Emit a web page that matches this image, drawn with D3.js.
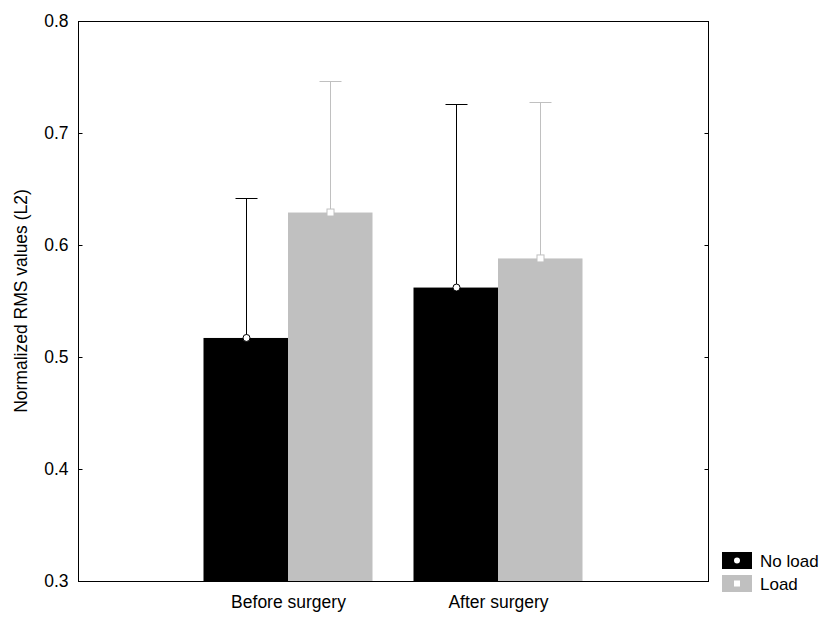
<!DOCTYPE html>
<html><head><meta charset="utf-8">
<script src="https://cdn.jsdelivr.net/npm/d3@7"></script>
<style>body{margin:0;background:#fff;} text{font-family:Arial,"Liberation Sans",sans-serif;}</style>
</head><body>
<svg id="c" width="832" height="624"></svg>
<script>
const categories = ["Before surgery", "After surgery"];
const seriesNames = ["No load", "Load"];
const noLoadMeans = [0.517, 0.562];
const noLoadUpper = [0.642, 0.726];
const loadMeans = [0.629, 0.588];
const loadUpper = [0.746, 0.728];
const yTicks = [0.3, 0.4, 0.5, 0.6, 0.7, 0.8];
const colors = ["#000000", "#c0c0c0"];

const series = [
  {name: seriesNames[0], means: noLoadMeans, upper: noLoadUpper, color: colors[0], marker: "circle"},
  {name: seriesNames[1], means: loadMeans, upper: loadUpper, color: colors[1], marker: "square"}
];

const svg = d3.select("#c");
const L = 78, R = 708, T = 21, B = 581;
const x = d3.scalePoint().domain(categories).range([L, R]).padding(1);
const barW = 84.5;
const xs = d3.scaleBand().domain(seriesNames).range([-barW, barW]);
const y = d3.scaleLinear().domain([0.3, 0.8]).range([B, T]);

// bars
series.forEach(s => {
  const g = svg.append("g");
  categories.forEach((c, i) => {
    const x0 = x(c) + xs(s.name);
    g.append("rect").attr("x", x0).attr("y", y(s.means[i]))
      .attr("width", xs.bandwidth()).attr("height", y(0.3) - y(s.means[i]))
      .attr("fill", s.color);
  });
});
// error bars and markers
series.forEach(s => {
  categories.forEach((c, i) => {
    const cx = Math.round(x(c) + xs(s.name) + xs.bandwidth() / 2) + 0.5;
    const yt = Math.round(y(s.upper[i])) + 0.5;
    svg.append("line").attr("x1", cx).attr("x2", cx).attr("y1", y(s.means[i])).attr("y2", yt)
      .attr("stroke", s.color).attr("stroke-width", 1);
    svg.append("line").attr("x1", cx - 11).attr("x2", cx + 11).attr("y1", yt).attr("y2", yt)
      .attr("stroke", s.color).attr("stroke-width", 1);
    if (s.marker === "circle") {
      svg.append("circle").attr("cx", cx).attr("cy", y(s.means[i])).attr("r", 3.5)
        .attr("fill", "#fff").attr("stroke", "#000").attr("stroke-width", 1);
    } else {
      svg.append("rect").attr("x", cx - 3.5).attr("y", y(s.means[i]) - 3.5).attr("width", 7).attr("height", 7)
        .attr("fill", "#fff").attr("stroke", s.color).attr("stroke-width", 1);
    }
  });
});

// frame
svg.append("rect").attr("x", L + 0.5).attr("y", T + 0.5).attr("width", R - L).attr("height", B - T)
  .attr("fill", "none").attr("stroke", "#000").attr("stroke-width", 1);

// y axis
const yAxis = d3.axisLeft(y).tickValues(yTicks).tickFormat(d3.format(".1f")).tickSizeInner(-4).tickSizeOuter(0).tickPadding(10);
const ga = svg.append("g").attr("transform", `translate(${L + 0.5},0)`).call(yAxis);
ga.select(".domain").remove();
ga.selectAll("text").attr("font-size", 17.5).attr("fill", "#000").attr("font-family", "Arial, 'Liberation Sans', sans-serif");
ga.selectAll("line").attr("stroke", "#000");
const yAxisR = d3.axisRight(y).tickValues(yTicks.slice(1, -1)).tickSize(-4).tickFormat("");
const gr = svg.append("g").attr("transform", `translate(${R + 0.5},0)`).call(yAxisR);
gr.select(".domain").remove();
gr.selectAll("line").attr("stroke", "#000");

// x axis labels
const xAxis = d3.axisBottom(x).tickSize(0).tickPadding(0);
const gx = svg.append("g").attr("transform", `translate(0,${B})`).call(xAxis);
gx.select(".domain").remove();
gx.selectAll("text").attr("dy", null).attr("y", 27).attr("font-size", 17.5).attr("fill", "#000").attr("font-family", "Arial, 'Liberation Sans', sans-serif");

// y title
svg.append("text").attr("transform", `translate(27,${(T + B) / 2}) rotate(-90)`)
  .attr("text-anchor", "middle").attr("font-size", 17.5).text("Normalized RMS values (L2)");

// legend
series.forEach((s, i) => {
  const ly = 552 + i * 23;
  svg.append("rect").attr("x", 722).attr("y", ly).attr("width", 30).attr("height", 17).attr("fill", s.color);
  if (s.marker === "circle") {
    svg.append("circle").attr("cx", 737).attr("cy", ly + 8.5).attr("r", 3).attr("fill", "#fff");
  } else {
    svg.append("rect").attr("x", 734).attr("y", ly + 5.5).attr("width", 6).attr("height", 6).attr("fill", "#fff");
  }
  svg.append("text").attr("x", 760).attr("y", ly + 15).attr("font-size", 17).text(s.name);
});
</script>
</body></html>
